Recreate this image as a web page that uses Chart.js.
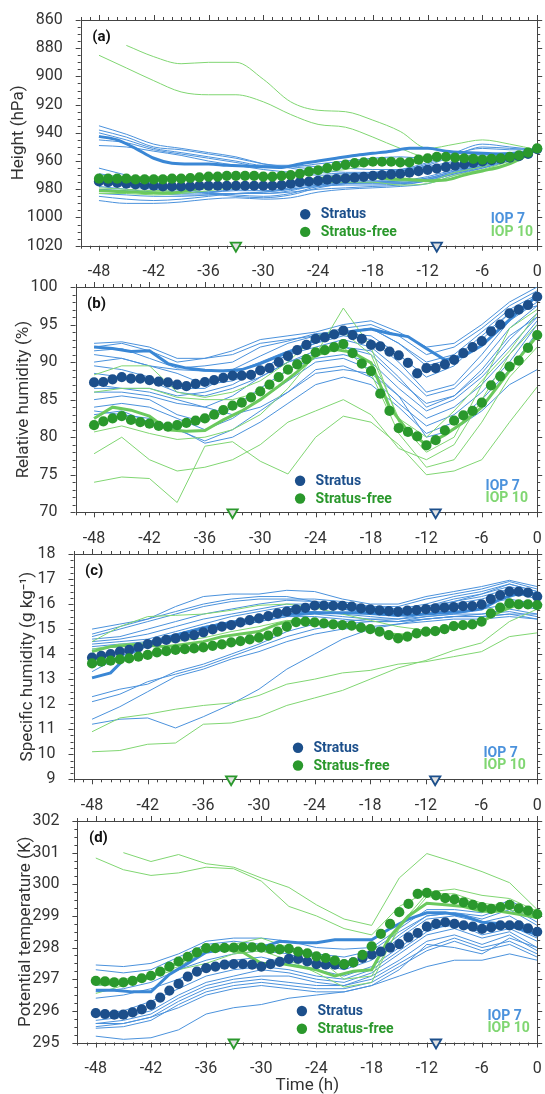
<!DOCTYPE html>
<html>
<head>
<meta charset="utf-8">
<script src="https://cdn.jsdelivr.net/npm/chart.js@4.4.0/dist/chart.umd.min.js"></script>
<style>
html, body { margin: 0; padding: 0; background: #fff; }
#wrap { position: relative; width: 545px; height: 1094px; overflow: hidden; }
canvas { position: absolute; left: 0; }
</style>
</head>
<body>
<div id="wrap">
  <canvas id="pa" width="545" height="285" style="top:0px"></canvas>
  <canvas id="pb" width="545" height="285" style="top:267px"></canvas>
  <canvas id="pc" width="545" height="285" style="top:534px"></canvas>
  <canvas id="pd" width="545" height="300" style="top:801px"></canvas>
</div>
<script>
// time axes (h)
const hours = [-48,-47,-46,-45,-44,-43,-42,-41,-40,-39,-38,-37,-36,-35,-34,-33,-32,-31,-30,-29,-28,-27,-26,-25,-24,-23,-22,-21,-20,-19,-18,-17,-16,-15,-14,-13,-12,-11,-10,-9,-8,-7,-6,-5,-4,-3,-2,-1,0];
const hours2 = [-48,-46,-44,-42,-40,-38,-36,-34,-32,-30,-28,-26,-24,-22,-20,-18,-16,-14,-12,-10,-8,-6,-4,-2,0];
const hours3 = [-48,-45,-42,-39,-36,-33,-30,-27,-24,-21,-18,-15,-12,-9,-6,-3,0];
const timeTicks = [-48,-42,-36,-30,-24,-18,-12,-6,0];
const markerFree = -33;
const markerStratus = -11;

// (a) height, hPa
const aTicks = [860,880,900,920,940,960,980,1000,1020];
const aStratus = [974.5,975,975.5,976,976.5,977,977.5,978,978,978,978,977.5,977.5,977.5,977.5,977.5,977.5,977.5,977.5,977.5,977,976,975,974.5,974,
  973.2,972.8,972.3,971.8,971.2,970.5,970,969.5,969,968.2,967.2,966.2,965.3,964.3,963.3,962.3,961.3,960.3,959.3,958.5,957.6,956.6,955,951.5];
const aFree = [972.5,972.5,972.5,972.5,973,973,973,973,972.5,972.5,972,971.5,971,971,970.5,970.5,970.5,970.5,971,971,970.5,970,969,967.5,966.5,
  965,963.5,962.5,961.5,961,960.5,960.5,960.5,961,961,959,958,957,957,957.5,958,958.5,959,958.5,958,957,956,954,951];
const aThick7 = [942.5,945,951,958,961.5,962,962,963,963.5,964,964.5,962,960,958,956,954.5,953,951,951,953,954,954.5,955,954.5,951];
const aThick10 = [981,981.5,982,982.5,982.5,980.5,978.5,978,978,978,977,974.5,972.5,971.5,971,971.5,972.5,973,974,973.5,970,967,964,959,951];
const aIop7 = [
  [935,941,948,951,954,957,962,965,968,969,968,966,961,954,948,950,952],
  [938,943,950,952,955,958,962,964,966,968,968,967,963,956,950,951,952],
  [940,945,951,954,957,960,963,963,964,965,966,966,962,955,951,952,952],
  [945,947,952,955,958,961,964,964,962,960,958,957,958,957,955,954,952],
  [949,950,953,956,960,963,966,968,970,970,969,967,964,960,956,955,953],
  [965,970,975,979,983,985,986,984,979,976,975,974,972,967,963,958,953],
  [969,972,976,980,982,984,985,983,978,976,975,975,973,968,964,959,953],
  [972,975,978,981,983,983,983,981,977,976,976,976,974,969,965,960,953],
  [975,978,980,982,982,981,981,979,976,975,975,975,973,968,964,959,953],
  [978,980,982,983,982,980,979,978,975,974,974,974,972,967,963,958,953],
  [983,984,985,985,984,983,982,980,977,975,975,974,971,966,962,958,953],
  [985,987,988,987,985,983,982,980,978,977,977,976,973,968,963,958,953],
  [988,990,990,989,987,986,987,986,982,980,979,978,976,970,965,959,953],
  [980,981,983,984,984,983,983,982,980,979,978,977,974,969,964,958,953]
];
const aIop10 = [
  [null,878,886,891,890,890,902,918,924,925,931,939,951,948,945,948,952],
  [885,894,903,911,913,913,918,927,934,936,943,951,957,957,957,955,952],
  [970,971,971,971,971,972,972,971,968,966,962,960,958,956,957,955,952],
  [983,983,984,983,981,979,978,976,975,975,975,977,976,970,966,960,952],
  [979,980,981,980,978,977,977,975,972,971,972,974,974,968,964,958,952]
];

// (b) relative humidity, %
const bTicks = [70,75,80,85,90,95,100];
const bStratus = [87.3,87.35,87.7,88.0,87.8,87.8,87.6,87.4,87.3,87.0,86.8,87.1,87.35,87.6,87.9,88.2,88.2,88.3,88.9,89.2,90.0,90.8,91.6,92.3,93.1,
  93.3,93.7,94.2,93.6,93.1,92.3,92.1,91.4,90.9,89.9,88.5,89.2,89.2,89.7,90.3,91.2,92.0,92.8,94.1,95.0,96.5,97.0,97.6,98.7];
const bFree = [81.6,82.1,82.5,82.8,82.3,82.0,81.8,81.5,81.4,81.6,81.9,82.2,82.5,83.0,83.6,84.2,84.6,85.3,86.1,87.0,88.0,89.0,89.7,90.4,91.3,
  91.6,92.0,92.4,91.2,89.8,88.8,85.8,83.5,81.2,80.7,80.1,78.9,79.6,80.9,82.2,82.9,83.5,84.6,86.9,88.1,89.4,90.2,91.9,93.6];
const bThick7 = [92,91.8,91.4,91.5,89.8,89.2,88.9,88.8,89.0,89.8,90.8,91.8,93.0,93.6,94.1,94.4,93.8,93.4,91.8,90.3,90.8,92.2,94.5,96.8,98.8];
const bThick10 = [82.5,84.0,83.6,82.8,81.0,80.8,80.9,82.3,83.5,85.0,86.8,88.7,90.9,91.7,91.3,89.9,84.0,80.8,79.0,80.3,82.0,84.0,87.2,90.5,93.5];
const bIop7 = [
  [92.5,92.7,92,90.5,90.5,91.5,93,93.5,94,95,95.5,94,92,92.5,95,98,100],
  [92,92.5,91.5,90,90.5,91,92.5,93,93.5,94.5,95,93.5,91,92,94.5,97.5,99.5],
  [91.5,91.8,90.5,89.2,89.5,90,92,92.8,93.8,94,94.5,92.5,90,91,94,97,99],
  [91,90.5,89.5,89,88.8,89,90.8,92.5,93.5,93.8,93.5,91,88,89.5,93,96.5,98.5],
  [89.5,89,88,86.5,86.5,88.5,90,91.5,92.5,93.5,93,90,86,87,91,95.5,98],
  [87,86.5,86.5,85.5,86,87,89,91,92,93,92,89,85.5,86.5,90,94.5,97.5],
  [86,86,85.5,84.5,84,85.5,88,90,91.5,92,91,87.5,84.5,85.5,88.5,93,96.5],
  [85,85.5,85,83,82,84,86.5,89,90.5,91,90,86.5,83.5,85,88,92,96],
  [84,84.5,84,82.5,81,82.5,85,87.5,90,90.5,89,85.5,82.5,84,87,91,95.5],
  [83.5,83,82.5,81,79.5,81,83.5,86,89,89.5,88,84.5,81.5,83,86,90,95],
  [83,83.5,82,81.2,79.2,80,82,84.5,87,88,87,84,80.5,82,85,89,94],
  [86.5,86.5,86,85,84,83,84,86,88.5,89,88.5,85.5,80,81,83.5,87,89],
  [90,90.5,89.5,88.5,87,87.5,89,91,92.5,94,94.5,92.5,89.5,90.5,93.5,96.5,97.5],
  [88.5,88,87.5,86,85.5,86.5,88,90,91,92,91.5,88,84,85.5,89,93.5,96]
];
const bIop10 = [
  [74,74.7,74.5,71.3,78.8,79.4,76.8,75.1,80,82.8,82,79,75,75.5,77,82,86.7],
  [77.8,80,77,75.5,76,77,79,82,83.5,85,83,78.5,77,79,85,91,95],
  [80.7,81.5,80.5,79.7,80,81,83,86.5,91,97.2,92,82,78,80,87,94.5,97],
  [88.3,89.5,89.5,86,85.3,86,87.5,90,93.5,94,91,82.5,80,83.5,87.5,91.5,96.5],
  [86,86.5,86.5,85.3,85,85,86,89,91,92,88.5,80.5,76,77,82,88,92]
];

// (c) specific humidity, g/kg
const cTicks = [9,10,11,12,13,14,15,16,17,18];
const cStratus = [13.86,13.93,14.0,14.1,14.17,14.27,14.4,14.5,14.57,14.63,14.7,14.76,14.87,14.99,15.1,15.16,15.27,15.36,15.43,15.52,15.63,15.7,15.79,15.85,15.94,
  15.94,15.93,15.93,15.9,15.83,15.79,15.75,15.72,15.7,15.74,15.76,15.8,15.83,15.86,15.88,15.92,15.92,15.99,16.2,16.36,16.5,16.5,16.46,16.3];
const cFree = [13.63,13.7,13.74,13.79,13.83,13.9,13.97,14.07,14.12,14.17,14.2,14.23,14.27,14.33,14.39,14.47,14.52,14.59,14.66,14.74,14.9,15.1,15.28,15.3,15.27,
  15.23,15.19,15.16,15.14,15.06,15.0,14.9,14.76,14.63,14.7,14.83,14.9,14.92,15.0,15.12,15.16,15.19,15.3,15.63,15.86,16.03,15.99,15.99,15.96];
const cThick7 = [13.05,13.25,14.0,14.4,14.65,14.85,15.05,15.2,15.3,15.45,15.55,15.6,15.65,15.65,15.65,15.62,15.58,15.55,15.6,15.65,15.7,15.8,16.2,16.42,16.4];
const cThick10 = [14.1,14.3,14.35,14.35,14.3,14.4,14.5,14.7,14.8,14.9,15.2,15.35,15.3,15.2,15.1,15.0,14.8,14.75,14.9,15.0,15.15,15.3,15.7,16.0,15.95];
const cIop7 = [
  [15.0,15.2,15.4,15.9,16.3,16.4,16.4,16.55,16.5,16.2,16.0,16.0,16.3,16.5,16.7,16.95,16.7],
  [14.7,15.0,15.3,15.6,15.9,16.1,16.2,16.2,16.2,16.1,15.9,15.9,16.2,16.4,16.6,16.9,16.6],
  [14.6,14.7,15.0,15.3,15.6,15.8,16.0,16.15,16.1,16.0,15.9,15.8,16.0,16.3,16.5,16.8,16.5],
  [14.5,14.6,14.8,15.1,15.4,15.6,15.8,16.0,16.0,15.9,15.8,15.7,15.9,16.1,16.4,16.7,16.4],
  [14.4,14.5,14.6,14.9,15.2,15.5,15.7,15.9,15.9,15.8,15.7,15.6,15.8,16.0,16.2,16.5,16.2],
  [14.3,14.4,14.5,14.8,15.0,15.3,15.5,15.7,15.7,15.6,15.5,15.4,15.6,15.8,16.0,16.2,16.0],
  [14.2,14.3,14.4,14.6,14.9,15.1,15.3,15.5,15.5,15.4,15.3,15.3,15.5,15.6,15.8,16.0,15.8],
  [13.3,13.9,14.3,14.6,14.9,15.1,15.3,15.5,15.6,15.5,15.4,15.3,15.4,15.5,15.6,15.8,15.6],
  [12.3,12.6,12.8,13.3,13.6,14.0,14.4,14.9,15.2,15.3,15.4,15.4,15.5,15.6,15.6,15.7,15.5],
  [12.1,12.4,12.9,13.2,13.5,13.9,14.3,14.7,15.0,15.2,15.3,15.3,15.4,15.5,15.5,15.6,15.4],
  [11.4,11.9,12.5,13.1,13.4,13.8,14.1,14.5,14.8,15.0,15.1,15.2,15.3,15.4,15.4,15.5,15.4],
  [11.2,11.4,11.45,11.05,11.5,12.0,12.6,13.4,14.0,14.6,15.0,15.2,15.4,15.5,15.5,15.6,15.6],
  [13.5,13.9,14.4,14.8,15.1,15.3,15.5,15.8,15.9,15.8,15.6,15.5,15.8,16.1,16.3,16.6,16.4],
  [14.8,15.1,15.4,15.7,16.0,16.2,16.3,16.3,16.1,15.9,15.7,15.6,15.9,16.2,16.4,16.8,16.5]
];
const cIop10 = [
  [10.1,10.15,10.4,10.45,11.2,11.25,11.5,11.95,12.25,12.55,13.0,13.45,13.75,14.15,14.45,15.3,15.8],
  [10.9,11.45,11.6,11.8,11.95,12.05,12.35,12.8,13.0,13.25,13.35,13.6,13.7,13.9,14.1,14.7,14.85],
  [14.5,15.1,15.5,15.55,15.6,15.75,15.95,16.0,15.85,15.6,15.35,15.1,14.95,15.15,15.3,15.95,15.9],
  [14.2,14.4,14.45,14.5,14.65,14.9,15.1,15.35,15.25,15.1,15.0,14.7,14.85,15.05,15.25,15.9,16.0]
];

// (d) potential temperature, K
const dTicks = [295,296,297,298,299,300,301,302];
const dStratus = [295.93,295.9,295.88,295.88,295.95,296.05,296.19,296.42,296.64,296.85,297.08,297.24,297.35,297.4,297.46,297.48,297.48,297.46,297.4,297.48,297.55,297.64,297.64,297.56,297.48,
  297.46,297.46,297.46,297.53,297.67,297.78,297.87,298.0,298.11,298.32,298.46,298.66,298.75,298.8,298.75,298.7,298.66,298.59,298.64,298.7,298.7,298.7,298.61,298.5];
const dFree = [296.95,296.93,296.9,296.9,296.95,297.03,297.11,297.24,297.4,297.56,297.71,297.85,297.98,297.98,297.99,298.0,298.01,298.01,298.0,297.96,297.94,297.96,297.87,297.82,297.72,
  297.67,297.59,297.48,297.53,297.77,298.04,298.43,298.75,299.12,299.38,299.7,299.73,299.65,299.56,299.52,299.43,299.35,299.28,299.22,299.28,299.35,299.24,299.17,299.06];
const dThick7 = [296.65,296.65,296.6,296.6,297.15,297.5,297.85,297.95,298.0,298.0,298.2,298.15,298.15,298.25,298.25,298.25,298.6,298.9,299.1,299.1,299.0,298.8,298.75,298.6,298.4];
const dThick10 = [296.85,296.85,296.95,297.05,297.4,297.65,297.95,297.95,297.85,297.5,297.5,297.4,297.3,297.1,297.25,297.3,298.35,299.0,299.4,299.35,299.3,299.15,299.15,299.05,298.95];
const dIop7 = [
  [297.45,297.4,297.5,297.8,298.2,298.3,298.3,298.2,298.0,297.95,298.0,298.6,299.2,299.2,299.1,299.5,299.0],
  [297.3,297.2,297.3,297.7,298.1,298.2,298.1,298.0,297.8,297.7,297.9,298.5,299.0,299.1,298.9,299.2,298.7],
  [296.6,296.7,296.9,297.3,297.6,297.8,297.9,297.8,297.5,297.3,297.6,298.3,298.9,299.0,298.8,299.0,298.5],
  [296.4,296.5,296.7,297.0,297.4,297.6,297.7,297.5,297.3,297.1,297.4,298.0,298.6,298.7,298.5,298.7,298.3],
  [295.7,295.8,296.0,296.5,296.9,297.1,297.3,297.2,297.0,296.9,297.2,297.8,298.4,298.6,298.3,298.5,298.0],
  [295.6,295.7,295.9,296.4,296.8,297.0,297.1,297.1,296.9,296.8,297.1,297.6,298.2,298.4,298.1,298.4,297.9],
  [295.5,295.6,295.8,296.3,296.7,296.9,297.0,296.9,296.8,296.8,297.0,297.5,298.0,298.3,298.0,298.2,297.8],
  [295.45,295.5,295.7,296.2,296.6,296.8,296.9,296.8,296.7,296.7,296.9,297.4,297.9,298.2,297.9,298.1,297.7],
  [295.6,295.6,295.8,296.1,296.5,296.7,296.8,296.7,296.6,296.6,296.8,297.3,298.1,298.0,297.8,298.3,298.0],
  [295.2,295.1,295.15,295.4,295.9,296.1,296.2,296.4,296.5,296.6,296.8,297.1,297.4,297.6,297.6,297.8,297.6],
  [296.8,296.9,297.1,297.5,297.9,298.0,298.0,297.9,297.7,297.5,297.7,298.4,299.0,299.1,299.0,299.3,298.8],
  [295.9,296.0,296.3,296.7,297.1,297.3,297.4,297.3,297.1,297.0,297.3,297.9,298.5,298.8,298.4,298.6,298.2]
];
const dIop10 = [
  [null,301.0,300.72,300.94,300.65,300.54,300.2,299.9,299.35,298.9,298.7,300.2,300.97,300.7,300.4,300.05,299.2],
  [300.83,300.46,300.28,300.36,300.54,300.49,300.1,299.3,299.0,298.6,298.4,299.3,299.75,299.85,299.65,299.55,299.15],
  [296.55,296.8,297.1,297.4,297.9,298.1,298.3,298.0,297.7,297.0,297.1,298.6,299.6,299.6,299.35,299.2,299.0],
  [297.0,297.0,297.1,297.3,297.5,297.8,297.9,297.6,297.2,296.75,296.9,298.7,299.7,299.7,299.4,299.3,299.0]
];

const COL = {
  stratus: '#1c4f8b', free: '#2a982c',
  iop7: '#4b92dc', iop10: '#80d672',
  thick7: '#3a87d5', thick10: '#6bc95d',
  axis: '#444', text: '#333'
};

function pts(xs, ys) {
  return xs.map((x, i) => ({ x: x, y: ys[i] }));
}

// frame with outward ticks on all four sides
const framePlugin = {
  id: 'frame',
  beforeDatasetsDraw(chart, args, o) {
    const { ctx, chartArea: a, scales } = chart;
    const x = scales.x, y = scales.y;
    ctx.save();
    ctx.strokeStyle = COL.axis;
    ctx.lineWidth = 1;
    ctx.beginPath();
    for (let v = -50; v <= 0; v++) {
      const px = Math.round(x.getPixelForValue(v)) + 0.5;
      const len = timeTicks.includes(v) ? 5 : 3;
      ctx.moveTo(px, a.bottom); ctx.lineTo(px, a.bottom + len);
      ctx.moveTo(px, a.top); ctx.lineTo(px, a.top - len);
    }
    const n = Math.round((o.max - o.min) / o.minor);
    for (let i = 0; i <= n; i++) {
      const v = o.min + i * o.minor;
      const py = Math.round(y.getPixelForValue(v)) + 0.5;
      const major = i % o.per === 0;
      const len = major ? 5 : 3;
      ctx.moveTo(a.left, py); ctx.lineTo(a.left - len, py);
      ctx.moveTo(a.right, py); ctx.lineTo(a.right + len, py);
    }
    ctx.stroke();
    ctx.strokeRect(Math.round(a.left) + 0.5, Math.round(a.top) + 0.5,
      Math.round(a.right) - Math.round(a.left), Math.round(a.bottom) - Math.round(a.top));
    ctx.restore();
  },
  afterDraw(chart, args, o) {
    const { ctx, chartArea: a } = chart;
    ctx.save();
    ctx.textBaseline = 'middle';
    ctx.textAlign = 'left';
    ctx.fillStyle = '#111';
    ctx.font = 'bold 15px Roboto';
    ctx.fillText(o.letter, a.left + 11.5, a.top + 17);

    ctx.font = 'bold 14px Roboto';
    const dx = a.left + 224.5;
    const rows = [[COL.stratus, 'Stratus', a.bottom - 31.5], [COL.free, 'Stratus-free', a.bottom - 13.8]];
    rows.forEach(r => {
      ctx.fillStyle = r[0];
      ctx.beginPath();
      ctx.arc(dx, r[2], 5.2, 0, Math.PI * 2);
      ctx.fill();
      ctx.fillText(r[1], dx + 15.5, r[2] + 0.5);
    });
    ctx.fillStyle = COL.iop7;
    ctx.fillText('IOP 7', a.left + 410, a.bottom - 26.2);
    ctx.fillStyle = COL.iop10;
    ctx.fillText('IOP 10', a.left + 410, a.bottom - 13.6);
    ctx.restore();
  }
};

function makePanel(id, p) {
  const ds = [];
  p.iop7.forEach(ys => ds.push({
    data: pts(hours3, ys), borderColor: COL.iop7, borderWidth: 1, pointRadius: 0,
    tension: p.tension, cubicInterpolationMode: p.cubic, order: 6
  }));
  p.iop10.forEach(ys => ds.push({
    data: pts(hours3, ys), borderColor: COL.iop10, borderWidth: 1, pointRadius: 0,
    tension: p.tension, cubicInterpolationMode: p.cubic, order: 5
  }));
  ds.push({ data: pts(hours2, p.thick7), borderColor: COL.thick7, borderWidth: 3, pointRadius: 0,
    tension: p.tension, cubicInterpolationMode: p.cubic, order: 4 });
  ds.push({ data: pts(hours2, p.thick10), borderColor: COL.thick10, borderWidth: 3, pointRadius: 0,
    tension: p.tension, cubicInterpolationMode: p.cubic, order: 3 });
  ds.push({ data: pts(hours, p.stratus), showLine: false, pointRadius: 5.1, pointBorderWidth: 0,
    pointBackgroundColor: COL.stratus, clip: false, order: 2 });
  ds.push({ data: pts(hours, p.free), showLine: false, pointRadius: 5.1, pointBorderWidth: 0,
    pointBackgroundColor: COL.free, clip: false, order: 1 });
  const yBase = p.reverse ? p.max : p.min;
  ds.push({ data: [{ x: markerFree, y: yBase }], showLine: false, pointStyle: 'triangle', rotation: 180,
    pointRadius: 6, pointBackgroundColor: '#e2e2e2', pointBorderColor: COL.free, pointBorderWidth: 1.8,
    clip: false, order: 0 });
  ds.push({ data: [{ x: markerStratus, y: yBase }], showLine: false, pointStyle: 'triangle', rotation: 180,
    pointRadius: 6, pointBackgroundColor: '#e2e2e2', pointBorderColor: COL.stratus, pointBorderWidth: 1.8,
    clip: false, order: 0 });

  const canvas = document.getElementById(id);
  return new Chart(canvas, {
    type: 'line',
    data: { datasets: ds },
    plugins: [framePlugin],
    options: {
      responsive: false,
      animation: false,
      devicePixelRatio: 1,
      events: [],
      layout: { padding: { top: 20, right: p.right, bottom: 0, left: 0 } },
      plugins: {
        legend: { display: false },
        tooltip: { enabled: false },
        frame: { letter: p.letter, min: p.min, max: p.max, minor: p.minor, per: p.per }
      },
      scales: {
        x: {
          type: 'linear', min: -50, max: 0,
          grid: { display: false }, border: { display: false },
          afterBuildTicks: s => { s.ticks = timeTicks.map(v => ({ value: v })); },
          afterFit: s => { s.height = canvas.height - p.bottom; s.paddingLeft = 0; s.paddingRight = 0; },
          ticks: { font: { family: 'Roboto', size: 16 }, color: COL.text, padding: 9, maxRotation: 0, autoSkip: false, callback: v => String(v) },
          title: p.xTitle ? { display: true, text: p.xTitle, font: { family: 'Roboto', size: 17 }, color: COL.text, padding: { top: 0, bottom: p.xTitlePad } } : { display: false }
        },
        y: {
          type: 'linear', min: p.min, max: p.max, reverse: !!p.reverse,
          grid: { display: false }, border: { display: false },
          afterBuildTicks: s => { s.ticks = p.ticks.map(v => ({ value: v })); },
          afterFit: s => { s.width = p.left; s.paddingTop = 0; s.paddingBottom = 0; },
          ticks: { font: { family: 'Roboto', size: 16 }, color: COL.text, padding: 10, autoSkip: false, callback: v => String(v) },
          title: { display: true, text: p.yTitle, font: { family: 'Roboto', size: 17 }, color: COL.text, padding: { top: p.yTitlePad, bottom: 0 } }
        }
      }
    }
  });
}

makePanel('pa', {
  letter: '(a)', yTitle: 'Height (hPa)', yTitlePad: 9, min: 860, max: 1020, reverse: true,
  ticks: aTicks, minor: 5, per: 4, left: 80.7, right: 0, bottom: 245.7,
  tension: 0.4, cubic: 'monotone',
  stratus: aStratus, free: aFree, thick7: aThick7, thick10: aThick10, iop7: aIop7, iop10: aIop10
});
makePanel('pb', {
  letter: '(b)', yTitle: 'Relative humidity (%)', yTitlePad: 14, min: 70, max: 100,
  ticks: bTicks, minor: 1, per: 5, left: 75.6, right: 4, bottom: 245.3,
  tension: 0, cubic: 'default',
  stratus: bStratus, free: bFree, thick7: bThick7, thick10: bThick10, iop7: bIop7, iop10: bIop10
});
makePanel('pc', {
  letter: '(c)', yTitle: 'Specific humidity (g kg⁻¹)', yTitlePad: 18, min: 9, max: 18,
  ticks: cTicks, minor: 0.25, per: 4, left: 73.5, right: 7, bottom: 245.3,
  tension: 0, cubic: 'default',
  stratus: cStratus, free: cFree, thick7: cThick7, thick10: cThick10, iop7: cIop7, iop10: cIop10
});
makePanel('pd', {
  letter: '(d)', yTitle: 'Potential temperature (K)', yTitlePad: 15.5, min: 295, max: 302,
  ticks: dTicks, minor: 0.25, per: 4, left: 77.4, right: 6, bottom: 241.5,
  xTitle: 'Time (h)', xTitlePad: 5,
  tension: 0, cubic: 'default',
  stratus: dStratus, free: dFree, thick7: dThick7, thick10: dThick10, iop7: dIop7, iop10: dIop10
});
</script>
</body>
</html>
